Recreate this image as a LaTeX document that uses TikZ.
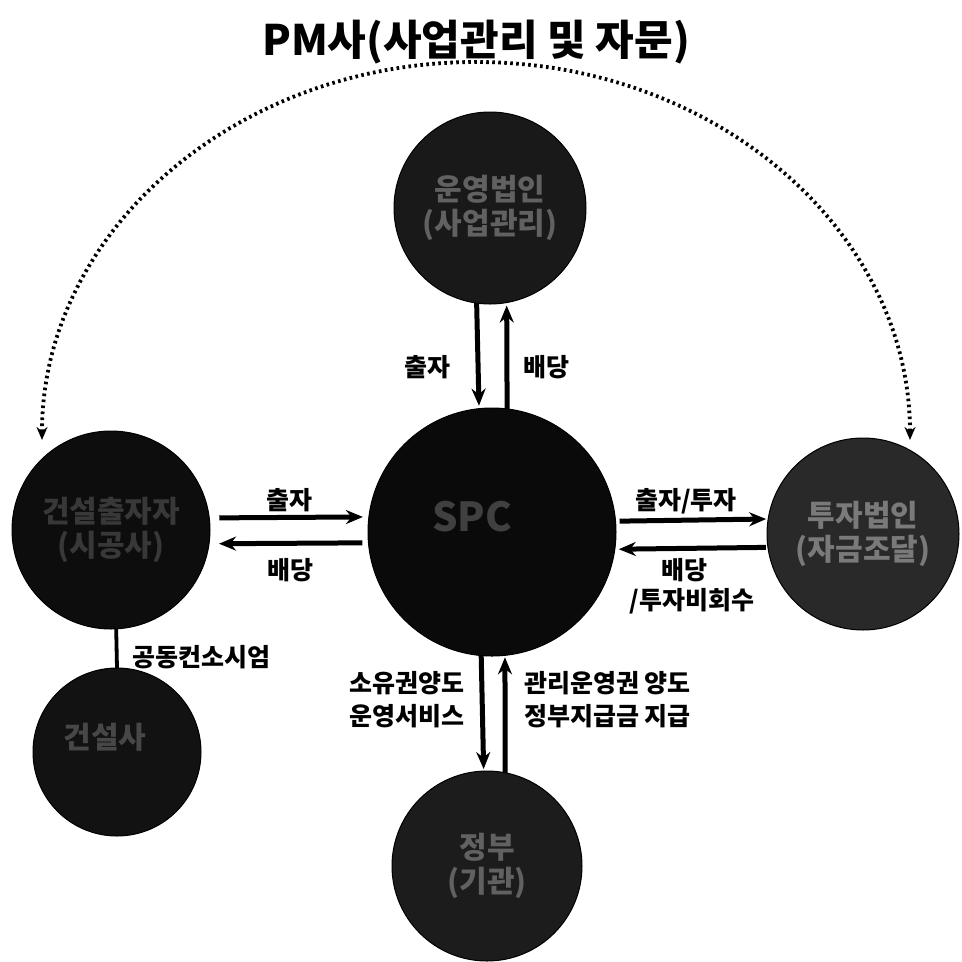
\documentclass[tikz,border=0pt]{standalone}
\usepackage{fontspec}
\newfontfamily\kr{Noto Sans CJK KR}
\usetikzlibrary{arrows.meta}
\begin{document}
\begin{tikzpicture}[x=1pt,y=-1pt,
  ball/.style={circle,inner sep=0pt,outer sep=0pt,draw=black,line width=1pt},
  intext/.style={text=black!62,font=\kr\bfseries\fontsize{30}{34}\selectfont,align=center},
  lbl/.style={font=\kr\bfseries\fontsize{25}{33}\selectfont,inner sep=0pt},
  arr/.style={line width=5pt,-{Stealth[length=17pt,width=14pt]}},
  dots/.style={line width=3.8pt,dash pattern=on 2.6pt off 3.4pt,{Stealth[length=13pt,width=11pt]}-{Stealth[length=13pt,width=11pt]}}]
\useasboundingbox (0,0) rectangle (962,962);
\fill[white] (0,0) rectangle (962,962);
% title
\node[font=\kr\bfseries\fontsize{42}{46}\selectfont,inner sep=0pt] (title) at (476,42) {PM사(사업관리 및 자문)};
% circles
\node[ball,minimum size=192pt,fill=black!90] (top) at (490,208) {};
\node[intext,text=black!62] at (top) {운영법인\\(사업관리)};
\node[ball,minimum size=248pt,fill=black!96] (mid) at (492,532) {};
\node[intext,text=black!75,font=\kr\bfseries\fontsize{40}{44}\selectfont] at ([xshift=-20pt,yshift=15pt]mid.center) {SPC};
\node[ball,minimum size=198pt,fill=black!95] (left) at (111,530) {};
\node[intext,text=black!78] at (left) {건설출자자\\(시공사)};
\node[ball,minimum size=192pt,fill=black!84] (right) at (863,534) {};
\node[intext,text=black!52] at (right) {투자법인\\(자금조달)};
\node[ball,minimum size=168pt,fill=black!93] (bl) at (117,752) {};
\node[intext,text=black!72] at ([xshift=-12pt,yshift=15pt]bl.center) {건설사};
\node[ball,minimum size=190pt,fill=black!89] (bot) at (487,866) {};
\node[intext,text=black!62] at (bot) {정부\\(기관)};
% top <-> mid
\draw[arr,shorten >=3pt] (top.262.7) -- (mid.96.5);
\draw[arr,shorten >=3pt] (mid.83.1) -- (top.280.3);
\node[lbl] (t1) at (427,367) {출자};
\node[lbl] (t2) at (546,367) {배당};
% left <-> mid
\draw[arr,shorten <=10pt,shorten >=6pt] (left.7) -- (mid.173.5);
\draw[arr,shorten <=6pt,shorten >=10pt] (mid.185.1) -- (left.352.5);
\node[lbl] (l1) at (289,500) {출자};
\node[lbl] (l2) at (290,570) {배당};
% mid <-> right
\draw[arr,shorten <=4pt,shorten >=2pt] (mid.5.6) -- (right.171.6);
\draw[arr,shorten <=2pt,shorten >=4pt] (right.188.4) -- (mid.352.6);
\node[lbl] (r1) at (686,501) {출자/투자};
\node[lbl] (r2) at (684,570) {배당};
\node[lbl] (r3) at (692,601) {/투자비회수};
% mid <-> bottom
\draw[arr,shorten >=2pt] (mid.265.8) -- (bot.92.4);
\draw[arr,shorten >=2pt] (bot.79.1) -- (mid.276);
\node[lbl,anchor=east,align=right] (b1) at (465,700) {소유권양도\\운영서비스};
\node[lbl,anchor=west,align=left] (b2) at (524,700) {관리운영권 양도\\정부지급금 지급};
% left -- bottom-left
\draw[line width=3.8pt] (left.273.5) -- (bl.north);
\node[lbl,anchor=west] (c1) at (132,657) {공동컨소시엄};
% dotted arc
\coordinate (pmL) at (42,440);
\coordinate (pmR) at (910,440);
\draw[dots] (pmL) arc[start angle=180,end angle=360,x radius=434,y radius=378];
\end{tikzpicture}
\end{document}
